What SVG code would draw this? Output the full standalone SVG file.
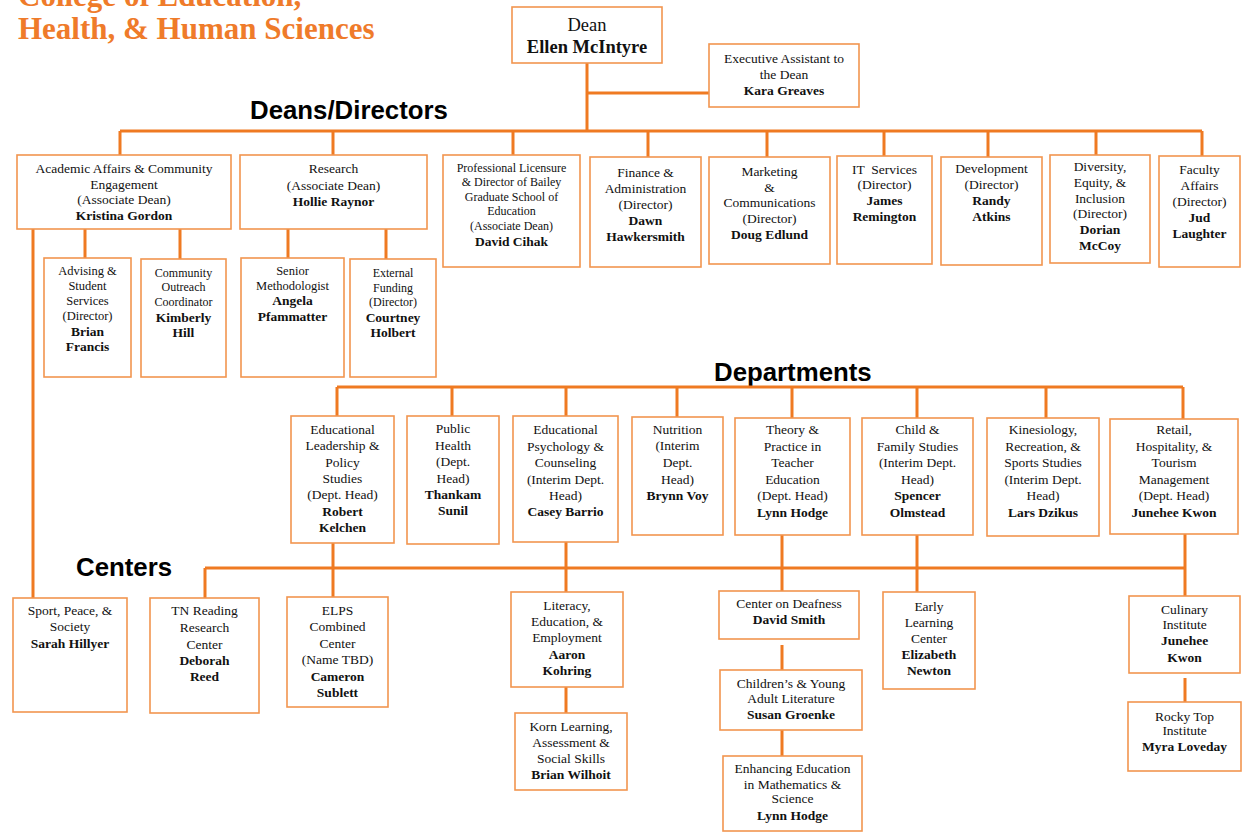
<svg xmlns="http://www.w3.org/2000/svg" width="1243" height="832" viewBox="0 0 1243 832">
<style>
.box{fill:#fff;stroke:#F2954F;stroke-width:1.6}
.t{font-family:"Liberation Serif","Times New Roman",serif;font-size:13.5px;fill:#111;text-anchor:middle}
.s{font-size:12.5px}
.xs{font-size:12px}
.b{font-weight:bold}
.conn{stroke:#EF7A22;stroke-width:3;fill:none}
.hdr{font-family:"Liberation Sans",Arial,sans-serif;font-weight:bold;font-size:25.8px;fill:#000}
.title{font-family:"Liberation Serif","Times New Roman",serif;font-weight:bold;font-size:31px;fill:#EF7B2A}
</style>
<rect width="1243" height="832" fill="#fff"/>
<text class="title" x="18" y="6">College of Education,</text>
<text class="title" x="18" y="39">Health, &amp; Human Sciences</text>
<text class="hdr" x="250" y="119">Deans/Directors</text>
<text class="hdr" x="714" y="381">Departments</text>
<text class="hdr" x="76" y="576">Centers</text>

<g id="connectors">
<path class="conn" d="M587 63V131M587 93H709M120 131H1202"/>
<path class="conn" d="M120 131V155M333 131V155M513 131V155M648 131V157M767 131V157M884 131V156M988 131V157M1096 131V155M1202 131V156"/>
<path class="conn" d="M85 229V258M180 229V259M288 229V258M386 229V259M33 229V598"/>
<path class="conn" d="M337 387H1183M337 387V416M452 387V416M566 387V416M677 387V417M792 387V418M917 387V418M1046 387V418M1183 387V419"/>
<path class="conn" d="M205 568H1185M205 568V598M333 543V597M566 542V592M782 535V591M917 535V592M1185 534V596"/>
<path class="conn" d="M566 687V713M782 645V670M782 730V756M1185 678V702"/>
</g>

<g id="dean"><rect class="box" x="512" y="7" width="150" height="56"/>
<text class="t" x="587" y="31" style="font-size:18.5px">Dean</text>
<text class="t b" x="587" y="53" style="font-size:18.5px">Ellen McIntyre</text></g>

<g id="exec-assistant"><rect class="box" x="709" y="44" width="150" height="63"/>
<text class="t" x="784" y="63">Executive Assistant to</text>
<text class="t" x="784" y="79">the Dean</text>
<text class="t b" x="784" y="95">Kara Greaves</text></g>

<g id="academic-affairs"><rect class="box" x="17" y="155" width="214" height="74"/>
<text class="t" x="124" y="173">Academic Affairs &amp; Community</text>
<text class="t" x="124" y="189">Engagement</text>
<text class="t" x="124" y="204">(Associate Dean)</text>
<text class="t b" x="124" y="220">Kristina Gordon</text></g>

<g id="research"><rect class="box" x="240" y="155" width="187" height="74"/>
<text class="t" x="333.5" y="173">Research</text>
<text class="t" x="333.5" y="190">(Associate Dean)</text>
<text class="t b" x="333.5" y="206">Hollie Raynor</text></g>

<g id="advising"><rect class="box" x="44" y="258" width="87" height="119"/>
<text class="t s" x="87.5" y="275">Advising &amp;</text>
<text class="t s" x="87.5" y="290">Student</text>
<text class="t s" x="87.5" y="305">Services</text>
<text class="t s" x="87.5" y="320">(Director)</text>
<text class="t b" x="87.5" y="336">Brian</text>
<text class="t b" x="87.5" y="351">Francis</text></g>

<g id="community-outreach"><rect class="box" x="141" y="259" width="85" height="118"/>
<text class="t xs" x="183.5" y="277">Community</text>
<text class="t xs" x="183.5" y="291">Outreach</text>
<text class="t xs" x="183.5" y="306">Coordinator</text>
<text class="t b" x="183.5" y="322">Kimberly</text>
<text class="t b" x="183.5" y="337">Hill</text></g>

<g id="senior-methodologist"><rect class="box" x="241" y="258" width="103" height="119"/>
<text class="t s" x="292.5" y="275">Senior</text>
<text class="t s" x="292.5" y="290">Methodologist</text>
<text class="t b" x="292.5" y="305">Angela</text>
<text class="t b" x="292.5" y="321">Pfammatter</text></g>

<g id="external-funding"><rect class="box" x="350" y="259" width="86" height="118"/>
<text class="t xs" x="393" y="277">External</text>
<text class="t xs" x="393" y="292">Funding</text>
<text class="t xs" x="393" y="306">(Director)</text>
<text class="t b" x="393" y="322">Courtney</text>
<text class="t b" x="393" y="337">Holbert</text></g>

<g id="professional-licensure"><rect class="box" x="443" y="155" width="137" height="112"/>
<text class="t xs" x="511.5" y="172">Professional Licensure</text>
<text class="t xs" x="511.5" y="186">&amp; Director of Bailey</text>
<text class="t xs" x="511.5" y="201">Graduate School of</text>
<text class="t xs" x="511.5" y="215">Education</text>
<text class="t xs" x="511.5" y="230">(Associate Dean)</text>
<text class="t b" x="511.5" y="246">David Cihak</text></g>

<g id="finance"><rect class="box" x="590" y="157" width="111" height="110"/>
<text class="t" x="645.5" y="177">Finance &amp;</text>
<text class="t" x="645.5" y="193">Administration</text>
<text class="t" x="645.5" y="209">(Director)</text>
<text class="t b" x="645.5" y="225">Dawn</text>
<text class="t b" x="645.5" y="241">Hawkersmith</text></g>

<g id="marketing"><rect class="box" x="709" y="157" width="121" height="107"/>
<text class="t" x="769.5" y="176">Marketing</text>
<text class="t" x="769.5" y="192">&amp;</text>
<text class="t" x="769.5" y="207">Communications</text>
<text class="t" x="769.5" y="223">(Director)</text>
<text class="t b" x="769.5" y="239">Doug Edlund</text></g>

<g id="it-services"><rect class="box" x="837" y="156" width="95" height="108"/>
<text class="t" x="884.5" y="174" xml:space="preserve">IT  Services</text>
<text class="t" x="884.5" y="189">(Director)</text>
<text class="t b" x="884.5" y="205">James</text>
<text class="t b" x="884.5" y="221">Remington</text></g>

<g id="development"><rect class="box" x="941" y="157" width="101" height="108"/>
<text class="t" x="991.5" y="173">Development</text>
<text class="t" x="991.5" y="189">(Director)</text>
<text class="t b" x="991.5" y="205">Randy</text>
<text class="t b" x="991.5" y="221">Atkins</text></g>

<g id="diversity"><rect class="box" x="1050" y="155" width="100" height="108"/>
<text class="t" x="1100" y="171">Diversity,</text>
<text class="t" x="1100" y="187">Equity, &amp;</text>
<text class="t" x="1100" y="203">Inclusion</text>
<text class="t" x="1100" y="218">(Director)</text>
<text class="t b" x="1100" y="234">Dorian</text>
<text class="t b" x="1100" y="250">McCoy</text></g>

<g id="faculty-affairs"><rect class="box" x="1159" y="156" width="81" height="111"/>
<text class="t" x="1199.5" y="174">Faculty</text>
<text class="t" x="1199.5" y="190">Affairs</text>
<text class="t" x="1199.5" y="206">(Director)</text>
<text class="t b" x="1199.5" y="222">Jud</text>
<text class="t b" x="1199.5" y="238">Laughter</text></g>

<g id="ed-leadership"><rect class="box" x="291" y="416" width="103" height="127"/>
<text class="t" x="342.5" y="434">Educational</text>
<text class="t" x="342.5" y="450">Leadership &amp;</text>
<text class="t" x="342.5" y="467">Policy</text>
<text class="t" x="342.5" y="483">Studies</text>
<text class="t" x="342.5" y="499">(Dept. Head)</text>
<text class="t b" x="342.5" y="516">Robert</text>
<text class="t b" x="342.5" y="532">Kelchen</text></g>

<g id="public-health"><rect class="box" x="407" y="416" width="92" height="128"/>
<text class="t" x="453" y="433">Public</text>
<text class="t" x="453" y="450">Health</text>
<text class="t" x="453" y="466">(Dept.</text>
<text class="t" x="453" y="483">Head)</text>
<text class="t b" x="453" y="499">Thankam</text>
<text class="t b" x="453" y="515">Sunil</text></g>

<g id="ed-psych"><rect class="box" x="513" y="416" width="105" height="126"/>
<text class="t" x="565.5" y="434">Educational</text>
<text class="t" x="565.5" y="451">Psychology &amp;</text>
<text class="t" x="565.5" y="467">Counseling</text>
<text class="t" x="565.5" y="484">(Interim Dept.</text>
<text class="t" x="565.5" y="500">Head)</text>
<text class="t b" x="565.5" y="516">Casey Barrio</text></g>

<g id="nutrition"><rect class="box" x="632" y="417" width="91" height="118"/>
<text class="t" x="677.5" y="434">Nutrition</text>
<text class="t" x="677.5" y="450">(Interim</text>
<text class="t" x="677.5" y="467">Dept.</text>
<text class="t" x="677.5" y="484">Head)</text>
<text class="t b" x="677.5" y="500">Brynn Voy</text></g>

<g id="theory-practice"><rect class="box" x="735" y="418" width="115" height="117"/>
<text class="t" x="792.5" y="434">Theory &amp;</text>
<text class="t" x="792.5" y="451">Practice in</text>
<text class="t" x="792.5" y="467">Teacher</text>
<text class="t" x="792.5" y="484">Education</text>
<text class="t" x="792.5" y="500">(Dept. Head)</text>
<text class="t b" x="792.5" y="517">Lynn Hodge</text></g>

<g id="child-family"><rect class="box" x="862" y="418" width="111" height="117"/>
<text class="t" x="917.5" y="434">Child &amp;</text>
<text class="t" x="917.5" y="451">Family Studies</text>
<text class="t" x="917.5" y="467">(Interim Dept.</text>
<text class="t" x="917.5" y="484">Head)</text>
<text class="t b" x="917.5" y="500">Spencer</text>
<text class="t b" x="917.5" y="517">Olmstead</text></g>

<g id="kinesiology"><rect class="box" x="987" y="418" width="112" height="118"/>
<text class="t" x="1043" y="434">Kinesiology,</text>
<text class="t" x="1043" y="451">Recreation, &amp;</text>
<text class="t" x="1043" y="467">Sports Studies</text>
<text class="t" x="1043" y="484">(Interim Dept.</text>
<text class="t" x="1043" y="500">Head)</text>
<text class="t b" x="1043" y="517">Lars Dzikus</text></g>

<g id="retail"><rect class="box" x="1110" y="419" width="128" height="115"/>
<text class="t" x="1174" y="434">Retail,</text>
<text class="t" x="1174" y="451">Hospitality, &amp;</text>
<text class="t" x="1174" y="467">Tourism</text>
<text class="t" x="1174" y="484">Management</text>
<text class="t" x="1174" y="500">(Dept. Head)</text>
<text class="t b" x="1174" y="517">Junehee Kwon</text></g>

<g id="sport-peace"><rect class="box" x="13" y="598" width="114" height="114"/>
<text class="t" x="70" y="615">Sport, Peace, &amp;</text>
<text class="t" x="70" y="631">Society</text>
<text class="t b" x="70" y="648">Sarah Hillyer</text></g>

<g id="tn-reading"><rect class="box" x="150" y="598" width="109" height="115"/>
<text class="t" x="204.5" y="615">TN Reading</text>
<text class="t" x="204.5" y="632">Research</text>
<text class="t" x="204.5" y="649">Center</text>
<text class="t b" x="204.5" y="665">Deborah</text>
<text class="t b" x="204.5" y="681">Reed</text></g>

<g id="elps"><rect class="box" x="287" y="597" width="101" height="110"/>
<text class="t" x="337.5" y="615">ELPS</text>
<text class="t" x="337.5" y="631">Combined</text>
<text class="t" x="337.5" y="648">Center</text>
<text class="t" x="337.5" y="664">(Name TBD)</text>
<text class="t b" x="337.5" y="681">Cameron</text>
<text class="t b" x="337.5" y="697">Sublett</text></g>

<g id="literacy"><rect class="box" x="511" y="592" width="112" height="95"/>
<text class="t" x="567" y="610">Literacy,</text>
<text class="t" x="567" y="626">Education, &amp;</text>
<text class="t" x="567" y="642">Employment</text>
<text class="t b" x="567" y="659">Aaron</text>
<text class="t b" x="567" y="675">Kohring</text></g>

<g id="korn"><rect class="box" x="515" y="713" width="112" height="77"/>
<text class="t" x="571" y="731">Korn Learning,</text>
<text class="t" x="571" y="747">Assessment &amp;</text>
<text class="t" x="571" y="763">Social Skills</text>
<text class="t b" x="571" y="779">Brian Wilhoit</text></g>

<g id="deafness"><rect class="box" x="719" y="591" width="140" height="48"/>
<text class="t" x="789" y="608">Center on Deafness</text>
<text class="t b" x="789" y="624">David Smith</text></g>

<g id="childrens-lit"><rect class="box" x="720" y="670" width="142" height="60"/>
<text class="t" x="791" y="688">Children’s &amp; Young</text>
<text class="t" x="791" y="703">Adult Literature</text>
<text class="t b" x="791" y="719">Susan Groenke</text></g>

<g id="enhancing-education"><rect class="box" x="723" y="756" width="139" height="75"/>
<text class="t" x="792.5" y="773">Enhancing Education</text>
<text class="t" x="792.5" y="789">in Mathematics &amp;</text>
<text class="t" x="792.5" y="803">Science</text>
<text class="t b" x="792.5" y="820">Lynn Hodge</text></g>

<g id="early-learning"><rect class="box" x="883" y="592" width="92" height="97"/>
<text class="t" x="929" y="611">Early</text>
<text class="t" x="929" y="627">Learning</text>
<text class="t" x="929" y="643">Center</text>
<text class="t b" x="929" y="659">Elizabeth</text>
<text class="t b" x="929" y="675">Newton</text></g>

<g id="culinary"><rect class="box" x="1129" y="596" width="111" height="77"/>
<text class="t" x="1184.5" y="614">Culinary</text>
<text class="t" x="1184.5" y="629">Institute</text>
<text class="t b" x="1184.5" y="645">Junehee</text>
<text class="t b" x="1184.5" y="662">Kwon</text></g>

<g id="rocky-top"><rect class="box" x="1128" y="702" width="113" height="69"/>
<text class="t" x="1184.5" y="721">Rocky Top</text>
<text class="t" x="1184.5" y="735">Institute</text>
<text class="t b" x="1184.5" y="751">Myra Loveday</text></g>
</svg>
